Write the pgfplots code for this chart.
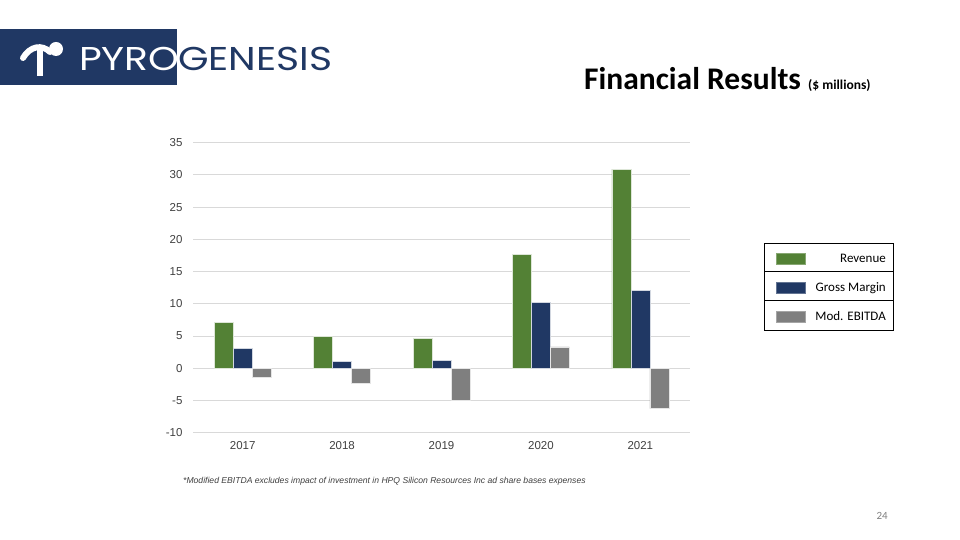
\documentclass[border=0pt]{standalone}
\usepackage{pgfplots}
\pgfplotsset{compat=1.18}
\usepackage{fontspec}
\setmainfont{Carlito}
\newfontfamily\tickfont{Liberation Sans}
\newfontfamily\logofont{Poppins}

\definecolor{revgreen}{HTML}{538135}
\definecolor{gmnavy}{HTML}{203864}
\definecolor{ebgray}{HTML}{7F7F7F}
\definecolor{ticktext}{HTML}{404040}
\definecolor{gridc}{HTML}{D9D9D9}

\begin{document}
\begin{tikzpicture}[x=1pt,y=1pt]
\path[use as bounding box,fill=white] (0,0) rectangle (960,540);

% logo
\fill[gmnavy] (0,455) rectangle (177,511);
\draw[white,line width=6pt,line cap=round] (23,482) .. controls (30,494) and (42,496) .. (50,488);
\draw[white,line width=5.5pt] (40,492) -- (40,464);
\fill[white] (56,491) circle (7);
\node[anchor=base west,inner sep=0,font=\logofont\fontsize{33}{33}\selectfont,text=white,xscale=1.19] at (79,469) {PYRO};
\node[anchor=base west,inner sep=0,font=\logofont\fontsize{33}{33}\selectfont,text=gmnavy,xscale=1.19] at (178,469) {GENESIS};

% title
\node[anchor=base west,inner sep=0,font=\bfseries\fontsize{31.5}{31.5}\selectfont] at (584,450) {Financial Results};
\node[anchor=base west,inner sep=0,font=\bfseries\fontsize{13.5}{13.5}\selectfont] at (808,450) {(\$ millions)};

\begin{axis}[
  at={(193pt,107.3pt)}, anchor=south west,
  scale only axis, width=497pt, height=290.1pt,
  ymin=-10, ymax=35, xmin=-0.5, xmax=4.5,
  enlargelimits=false,
  ybar=0pt, bar width=19pt,
  ytick={-10,-5,...,35},
  xtick={0,1,2,3,4},
  xticklabels={2017,2018,2019,2020,2021},
  axis line style={draw=none},
  major tick length=0pt,
  ymajorgrids, grid style={draw=gridc,line width=0.9pt},
  /pgf/number format/assume math mode=true,
  ticklabel style={font=\tickfont\fontsize{11.5}{13}\selectfont,text=ticktext},
  yticklabel style={xshift=-7pt},
  xticklabel style={yshift=-5pt},
]
\addplot[fill=revgreen,draw=white!80!revgreen,line width=0.6pt] coordinates {(0,7.1) (1,4.92) (2,4.66) (3,17.65) (4,30.9)};
\addplot[fill=gmnavy,draw=white!80!gmnavy,line width=0.6pt] coordinates {(0,3.1) (1,1.04) (2,1.24) (3,10.2) (4,12.1)};
\addplot[fill=ebgray,draw=white!80!ebgray,line width=0.6pt] coordinates {(0,-1.35) (1,-2.38) (2,-5.0) (3,3.3) (4,-6.26)};
\end{axis}

% legend
\draw[black,line width=0.8pt] (764,210) rectangle (893,297);
\draw[black,line width=0.8pt] (764,268.5) -- (893,268.5);
\draw[black,line width=0.8pt] (764,239.5) -- (893,239.5);
\draw[fill=revgreen,draw=revgreen!70!white] (776,276) rectangle (805,287);
\draw[fill=gmnavy,draw=gmnavy!70!white] (776,247) rectangle (805,258);
\draw[fill=ebgray,draw=ebgray!70!white] (776,218) rectangle (805,229);
\node[anchor=base east,inner sep=0,font=\fontsize{13}{13}\selectfont] at (886,277.5) {Revenue};
\node[anchor=base east,inner sep=0,font=\fontsize{13}{13}\selectfont] at (886,248.5) {Gross Margin};
\node[anchor=base east,inner sep=0,font=\fontsize{13}{13}\selectfont] at (886,219.5) {Mod. EBITDA};

% footnote
\node[anchor=base west,inner sep=0,font=\tickfont\itshape\fontsize{8.6}{9}\selectfont,text=ticktext] at (183,56.5) {*Modified EBITDA excludes impact of investment in HPQ Silicon Resources Inc ad share bases expenses};

% page number
\node[anchor=base east,inner sep=0,font=\fontsize{11}{11}\selectfont,text=gray] at (888,20) {24};
\end{tikzpicture}
\end{document}
